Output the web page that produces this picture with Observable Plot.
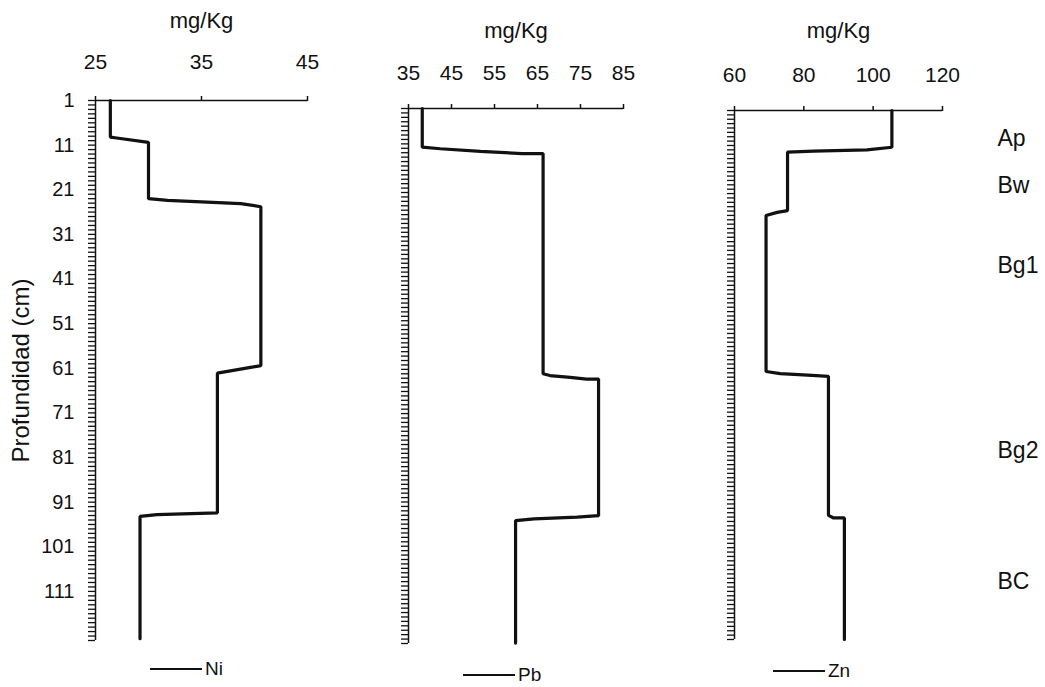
<!DOCTYPE html>
<html><head><meta charset="utf-8">
<script src="https://cdn.jsdelivr.net/npm/d3@7"></script>
<script src="https://cdn.jsdelivr.net/npm/@observablehq/plot@0.6"></script>
<style>
body{margin:0;background:#fff;}
#chart{position:relative;width:1045px;height:687px;font-family:"Liberation Sans",Arial,sans-serif;color:#111;}
#chart svg{position:absolute;top:0;}
.legend{position:absolute;display:flex;align-items:center;font-size:19px;line-height:1;}
.legend .sw{width:52px;height:0;border-top:2.5px solid #111;margin-right:3px;}
</style></head><body><div id="chart"></div>
<script>
// Depth profiles (cm) and concentrations (mg/Kg)
const niDepth = [1, 9.2, 9.4, 10.4, 23.0, 23.4, 24.1, 24.8, 60.4, 60.7, 62.1, 93.4, 93.8, 94.2, 121.6];
const niValue = [26.4, 26.4, 27.0, 30.0, 30.0, 31.8, 38.7, 40.6, 40.6, 39.9, 36.5, 36.5, 30.8, 29.2, 29.2];
const pbDepth = [1, 9.75, 10.1, 10.7, 11.2, 11.2, 61.0, 61.4, 61.8, 62.2, 62.2, 93.1, 93.4, 93.8, 94.2, 121.9];
const pbValue = [38.2, 38.2, 42.4, 51.7, 61.4, 66.3, 66.3, 67.9, 72.6, 76.4, 79.2, 79.2, 74.2, 64.2, 59.9, 59.9];
const znDepth = [1, 9.4, 10.0, 10.3, 10.5, 23.9, 24.3, 25.0, 60.7, 61.2, 61.6, 61.8, 93.6, 94.2, 94.2, 122];
const znValue = [105.4, 105.4, 98.2, 82.8, 75.3, 75.3, 72.3, 69.1, 69.1, 73.2, 82.4, 87.1, 87.1, 88.6, 91.7, 91.7];

const niTicks = [25, 35, 45];
const pbTicks = [35, 45, 55, 65, 75, 85];
const znTicks = [60, 80, 100, 120];
const depthLabels = [1, 11, 21, 31, 41, 51, 61, 71, 81, 91, 101, 111];
const depthMinor = d3.range(1, 123);
const depthDomain = [1, 122];

const horizonNames = ["Ap", "Bw", "Bg1", "Bg2", "BC"];
const horizonDepth = [7.4, 18.2, 36.5, 78.9, 108.7];

const ink = "#111";
const font = "Liberation Sans, Arial, sans-serif";

function panel(cfg) {
  const data = cfg.depths.map((d, i) => ({depth: d, value: cfg.values[i]}));
  const marks = [
    Plot.ruleY([depthDomain[0]], {stroke: ink, strokeWidth: 1.5}),
    Plot.ruleX([cfg.xDomain[0]], {stroke: ink, strokeWidth: 1.5}),
    Plot.axisX({anchor: "top", ticks: cfg.xTicks, tickSize: 5, tickPadding: cfg.tickPad, strokeWidth: 1.5,
      fontSize: 21, fill: ink, label: null}),
    Plot.axisX({anchor: "top", ticks: [], tickSize: 0,
      label: "mg/Kg", labelAnchor: "center", labelArrow: "none", labelOffset: cfg.labelOffset, fontSize: 22, fill: ink}),
    Plot.axisY({anchor: "left", ticks: depthMinor, tickSize: 7, tickFormat: () => "", strokeWidth: 1.3, label: null})
  ];
  if (cfg.yLabels) {
    marks.push(Plot.axisY({anchor: "left", ticks: depthLabels, tickSize: 0, tickPadding: 21, fill: ink, fontSize: 20, label: null}));
    marks.push(Plot.axisY({anchor: "left", ticks: [], tickSize: 0, fill: ink, fontSize: 24,
      label: "Profundidad (cm)", labelAnchor: "center", labelArrow: "none", labelOffset: 84}));
  }
  if (cfg.horizons) {
    marks.push(Plot.text(horizonNames, {y: horizonDepth, text: d => d, frameAnchor: "right", dx: 55,
      textAnchor: "start", fontSize: 23, fill: ink}));
  }
  marks.push(Plot.line(data, {x: "value", y: "depth", stroke: ink, strokeWidth: 3.2, strokeLinejoin: "miter"}));
  const svg = Plot.plot({
    width: cfg.width, height: 687,
    marginLeft: cfg.mL, marginRight: cfg.mR, marginTop: cfg.mT, marginBottom: cfg.mB,
    style: {fontFamily: font, fontSize: "20px", background: "transparent", color: ink, overflow: "visible"},
    x: {domain: cfg.xDomain, label: null},
    y: {domain: depthDomain, reverse: true, label: null},
    marks
  });
  svg.style.left = cfg.left + "px";
  return svg;
}

const chart = document.getElementById("chart");
chart.appendChild(panel({depths: niDepth, values: niValue, xDomain: [25, 45], xTicks: niTicks,
  left: 0, width: 340, mL: 95, mR: 33, mT: 100, mB: 47, labelOffset: 88, tickPad: 27, yLabels: true}));
chart.appendChild(panel({depths: pbDepth, values: pbValue, xDomain: [35, 85], xTicks: pbTicks,
  left: 340, width: 340, mL: 68, mR: 57, mT: 108, mB: 44, labelOffset: 86, tickPad: 24}));
chart.appendChild(panel({depths: znDepth, values: znValue, xDomain: [60, 120], xTicks: znTicks,
  left: 680, width: 365, mL: 54, mR: 103, mT: 110, mB: 48, labelOffset: 88, tickPad: 24, horizons: true}));

const legends = [
  {name: "Ni", left: 150, top: 659},
  {name: "Pb", left: 463, top: 665},
  {name: "Zn", left: 773, top: 661}
];
for (const l of legends) {
  const div = document.createElement("div");
  div.className = "legend";
  div.style.left = l.left + "px";
  div.style.top = l.top + "px";
  div.innerHTML = `<span class="sw"></span><span>${l.name}</span>`;
  chart.appendChild(div);
}
</script>
</body></html>
